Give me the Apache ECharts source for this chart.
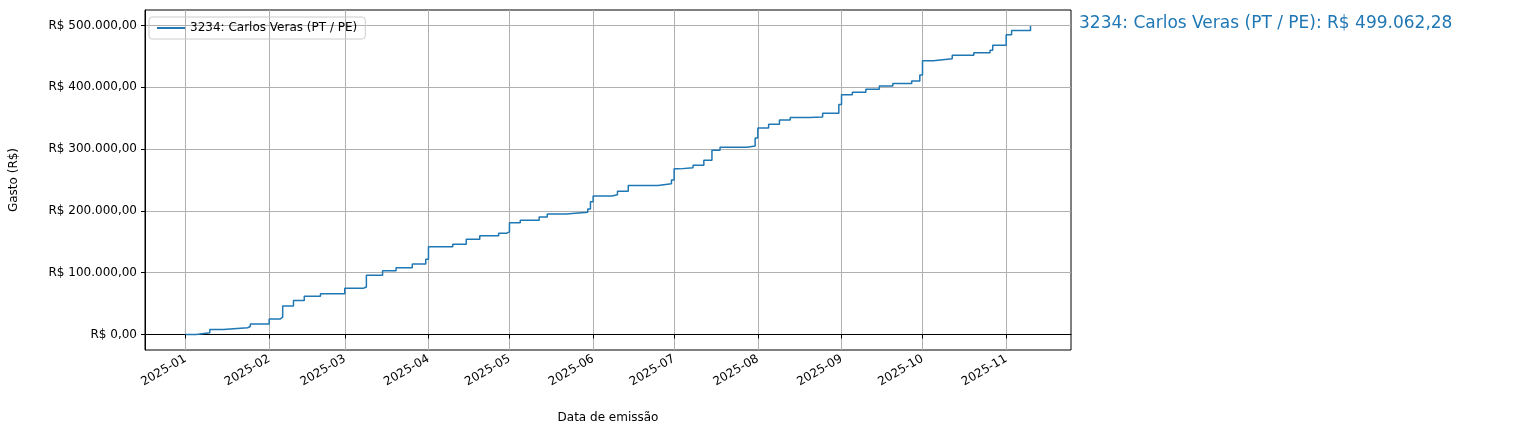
<!DOCTYPE html>
<html>
<head>
<meta charset="utf-8">
<script src="https://cdn.jsdelivr.net/npm/echarts@6/dist/echarts.min.js"></script>
<style>html,body{margin:0;padding:0;background:#fff}#chart{width:1517px;height:430px}</style>
</head>
<body>
<div id="chart"></div>
<script>
// step points: [date, cumulative spend]
const dates = ['2025-01-01','2025-01-05','2025-01-10','2025-01-15','2025-01-24','2025-01-25','2025-02-01','2025-02-05','2025-02-06',
  '2025-02-10','2025-02-14','2025-02-20','2025-03-01','2025-03-08','2025-03-09','2025-03-15','2025-03-20','2025-03-26',
  '2025-03-31','2025-04-01','2025-04-10','2025-04-15','2025-04-20','2025-04-27','2025-04-30','2025-05-01','2025-05-05',
  '2025-05-12','2025-05-15','2025-05-22','2025-05-30','2025-05-31','2025-06-01','2025-06-08','2025-06-10','2025-06-14',
  '2025-06-25','2025-06-30','2025-07-01','2025-07-03','2025-07-08','2025-07-12','2025-07-15','2025-07-18','2025-07-28',
  '2025-07-31','2025-08-01','2025-08-05','2025-08-09','2025-08-13','2025-08-20','2025-08-25','2025-08-31','2025-09-01',
  '2025-09-05','2025-09-10','2025-09-15','2025-09-20','2025-09-27','2025-09-30','2025-10-01','2025-10-05','2025-10-12',
  '2025-10-20','2025-10-26','2025-10-27','2025-11-01','2025-11-03','2025-11-10'];
const gasto = [0,3000,8000,11000,13000,17000,25000,28000,46000,
  55000,62000,66000,75000,77000,96000,103000,108000,114000,
  122000,142000,146000,154000,160000,164000,166000,181000,185000,
  190000,195000,198000,203000,215000,224000,226000,232000,241000,
  244000,250000,268000,270000,274000,282000,298000,303000,305000,
  318000,334000,340000,347000,351000,352000,358000,372000,388000,
  392000,397000,402000,406000,410000,420000,443000,446000,452000,
  456000,460000,468000,485000,492000,499062.28];
const monthTicks = ['2025-01-01','2025-02-01','2025-03-01','2025-04-01','2025-05-01','2025-06-01',
  '2025-07-01','2025-08-01','2025-09-01','2025-10-01','2025-11-01'];
const yTicks = [0,100000,200000,300000,400000,500000];
const nome = '3234: Carlos Veras (PT / PE)';
const total = 499062.28;

const ts = s => { const p = s.split('-'); return new Date(+p[0], +p[1] - 1, +p[2]).getTime(); };
const brl = v => 'R$ ' + v.toLocaleString('pt-BR', {minimumFractionDigits: 2, maximumFractionDigits: 2});
const font = 'DejaVu Sans';

let chart = echarts.init(document.getElementById('chart'));
chart.setOption({
  animation: false,
  textStyle: {fontFamily: font},
  grid: {left: 142, right: 446, top: 10, bottom: 80, show: true, borderColor: '#000', borderWidth: 1},
  legend: {
    left: 149, top: 17, orient: 'vertical', padding: [5, 8],
    borderColor: '#ccc', borderWidth: 1, borderRadius: 3,
    itemWidth: 28, itemHeight: 2, icon: 'rect',
    textStyle: {fontSize: 12, color: '#000', fontFamily: font},
    data: [nome]
  },
  xAxis: {
    type: 'value', min: ts('2024-12-17'), max: ts('2025-11-25'),
    name: 'Data de emissão', nameLocation: 'middle', nameGap: 62,
    nameTextStyle: {fontSize: 12, color: '#000'},
    axisLine: {lineStyle: {color: '#000'}},
    axisTick: {show: true, customValues: monthTicks.map(ts), length: 4, lineStyle: {color: '#000'}},
    axisLabel: {
      customValues: monthTicks.map(ts), rotate: 30, color: '#000', fontSize: 12,
      formatter: v => { const d = new Date(v); return d.getFullYear() + '-' + String(d.getMonth() + 1).padStart(2, '0'); }
    },
    splitLine: {show: true, lineStyle: {color: '#b0b0b0', width: 1}}
  },
  yAxis: {
    type: 'value', min: -25000, max: 525000,
    name: 'Gasto (R$)', nameLocation: 'middle', nameGap: 125,
    nameTextStyle: {fontSize: 12, color: '#000'},
    axisLine: {show: true, lineStyle: {color: '#000'}},
    axisTick: {show: true, customValues: yTicks, length: 4, lineStyle: {color: '#000'}},
    axisLabel: {customValues: yTicks, color: '#000', fontSize: 12, formatter: brl},
    splitLine: {show: true, lineStyle: {color: '#b0b0b0', width: 1}}
  },
  series: [{
    name: nome, type: 'line', step: 'end', showSymbol: false,
    color: '#1f77b4', lineStyle: {width: 1.5},
    data: dates.map((d, i) => [ts(d), gasto[i]])
  }],
  graphic: [{
    type: 'text', left: 1079, top: 15,
    style: {text: nome + ': ' + brl(total), fill: '#1f77b4', fontSize: 17, fontFamily: font}
  }]
});
</script>
</body>
</html>
